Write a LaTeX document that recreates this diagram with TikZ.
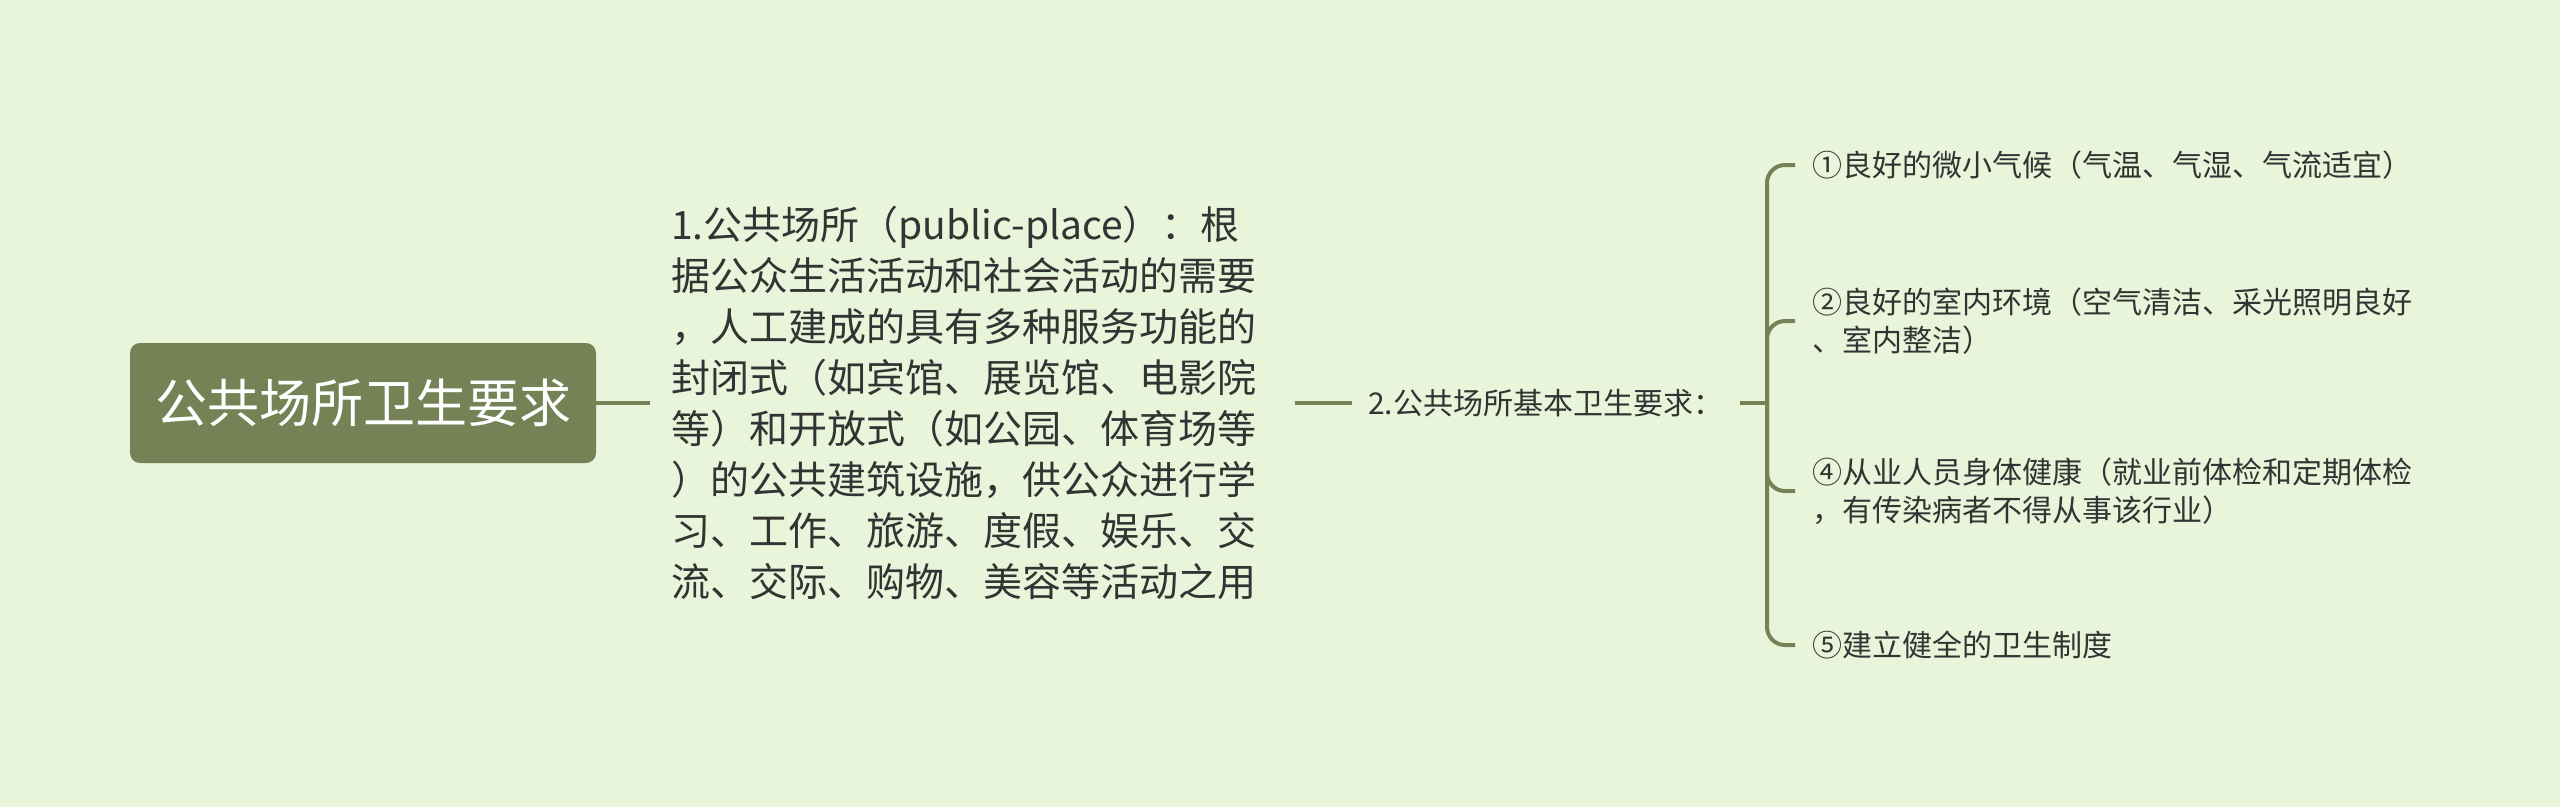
\documentclass[tikz,border=0pt]{standalone}
\usepackage{fontspec}
\setmainfont{Noto Sans CJK SC}
\definecolor{bg}{HTML}{E8F5DB}
\definecolor{olive}{HTML}{748256}
\definecolor{ink}{HTML}{333333}
\begin{document}
\begin{tikzpicture}[x=1pt,y=-1pt,
  link/.style={draw=olive,line width=4pt},
  rootbox/.style={fill=olive,rounded corners=10pt,minimum width=466pt,minimum height=120pt,
    text=white,font=\fontsize{52}{62}\selectfont,inner sep=0pt},
  bigtext/.style={text=ink,font=\fontsize{39}{51}\selectfont,align=left,text width=603pt,inner xsep=21pt,inner ysep=0pt,anchor=west},
  midtext/.style={text=ink,font=\fontsize{30}{38}\selectfont,align=left,text width=356pt,inner xsep=16pt,inner ysep=0pt,anchor=west},
  leaf/.style={text=ink,font=\fontsize{30}{38}\selectfont,align=left,text width=620pt,inner xsep=17pt,inner ysep=0pt,anchor=west},
  branch/.style={draw=olive,line width=4pt,rounded corners=18pt}]
\fill[bg] (0,0) rectangle (2560,807);
\useasboundingbox (0,0) rectangle (2560,807);

\node[rootbox] (root) at (363,403) {公共场所卫生要求};

\node[bigtext] (t1) at (650,403) {1.公共场所（public-place）：根\\
据公众生活活动和社会活动的需要\\
，人工建成的具有多种服务功能的\\
封闭式（如宾馆、展览馆、电影院\\
等）和开放式（如公园、体育场等\\
）的公共建筑设施，供公众进行学\\
习、工作、旅游、度假、娱乐、交\\
流、交际、购物、美容等活动之用};

\node[midtext] (t2) at (1352,403) {2.公共场所基本卫生要求：};

\coordinate (j) at (1767,403);

\node[leaf] (i1) at (1795,165) {①良好的微小气候（气温、气湿、气流适宜）};
\node[leaf] (i2) at (1795,321) {②良好的室内环境（空气清洁、采光照明良好\\、室内整洁）};
\node[leaf] (i4) at (1795,491) {④从业人员身体健康（就业前体检和定期体检\\，有传染病者不得从事该行业）};
\node[leaf] (i5) at (1795,645) {⑤建立健全的卫生制度};

\draw[link] (root.east) -- (root.east -| t1.west);
\draw[link] (t1.east) -- (t1.east -| t2.west);
\draw[link] (t2.east) -- (j);
\draw[branch] (j) |- (i1.west);
\draw[branch] (j) |- (i2.west);
\draw[branch] (j) |- (i4.west);
\draw[branch] (j) |- (i5.west);
\end{tikzpicture}
\end{document}
